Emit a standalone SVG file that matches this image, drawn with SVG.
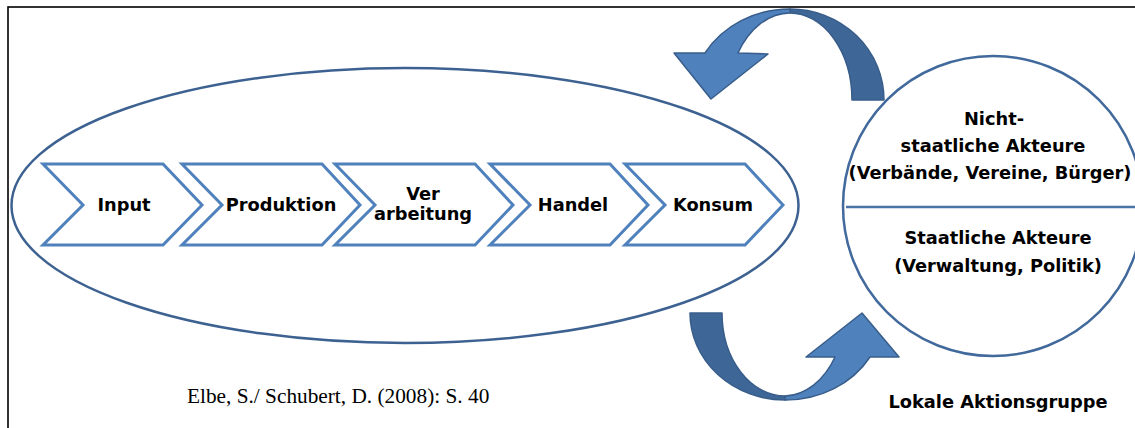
<svg xmlns="http://www.w3.org/2000/svg" width="1135" height="428" viewBox="0 0 1135 428">
<style>
.chev{fill:#ffffff;stroke:#4f81bd;stroke-width:3}
.lbl{font-family:"DejaVu Sans",Verdana,sans-serif;font-weight:bold;font-size:17.8px;fill:#000;text-anchor:middle}
.light{fill:#4f81bd;stroke:#385d8a;stroke-width:1.5;stroke-linejoin:round}
.dark{fill:#3e6797;stroke:#385d8a;stroke-width:1.5;stroke-linejoin:round}
</style>
<rect x="0" y="0" width="1135" height="428" fill="#ffffff"/>
<rect x="8" y="7" width="1140" height="440" fill="none" stroke="#000" stroke-width="1.6"/>
<g id="chain">
<ellipse cx="405" cy="205.5" rx="393.5" ry="137.5" fill="none" stroke="#3d6291" stroke-width="2.5"/>
</g>
<g id="input">
<polygon class="chev" points="43,164 163,164 202,205 163,245 43,245 83,205"/>
<text class="lbl" x="124" y="211">Input</text>
</g>
<g id="produktion">
<polygon class="chev" points="182,164 322,164 360,205 322,245 182,245 222,205"/>
<text class="lbl" x="281" y="211">Produktion</text>
</g>
<g id="verarbeitung">
<polygon class="chev" points="335,164 475,164 513,205 475,245 335,245 375,205"/>
<text class="lbl" x="423" y="200">Ver</text>
<text class="lbl" x="423" y="220">arbeitung</text>
</g>
<g id="handel">
<polygon class="chev" points="490,164 610,164 648,205 610,245 490,245 530,205"/>
<text class="lbl" x="573" y="211">Handel</text>
</g>
<g id="konsum">
<polygon class="chev" points="625,164 745,164 783,205 745,245 625,245 665,205"/>
<text class="lbl" x="713" y="211">Konsum</text>
</g>
<g id="lag">
<circle cx="993" cy="206" r="150" fill="#ffffff" stroke="#41699c" stroke-width="2.5"/>
<line x1="846" y1="207" x2="1135" y2="207" stroke="#4a74a8" stroke-width="2.5"/>
<text class="lbl" x="994" y="125">Nicht-</text>
<text class="lbl" x="993" y="152">staatliche Akteure</text>
<text class="lbl" x="990" y="179">(Verbände, Vereine, Bürger)</text>
<text class="lbl" x="998" y="244">Staatliche Akteure</text>
<text class="lbl" x="998" y="272">(Verwaltung, Politik)</text>
<text class="lbl" x="998" y="408">Lokale Aktionsgruppe</text>
</g>
<g id="connectors">
<path class="dark" d="M 790 9 A 94 91 0 0 1 884 100 L 852 100 A 62 87 0 0 0 790 13 Z"/>
<path class="light" d="M 790 9 A 99 91 0 0 0 705 53 L 674 53 L 711 99 L 768 54 L 738 53 A 62 87 0 0 1 790 13 Z"/>
<path class="dark" d="M 690 313 A 95 87 0 0 0 785 400 L 785 396 A 63 83 0 0 1 722 313 Z"/>
<path class="light" d="M 785 400 A 98 87 0 0 0 870 357 L 899 357 L 862 313 L 806 357 L 835 357 A 61 83 0 0 1 785 396 Z"/>
</g>
<text x="187" y="403" font-family="Liberation Serif,Times New Roman,serif" font-size="21.3" fill="#000">Elbe, S./ Schubert, D. (2008): S. 40</text>
</svg>
